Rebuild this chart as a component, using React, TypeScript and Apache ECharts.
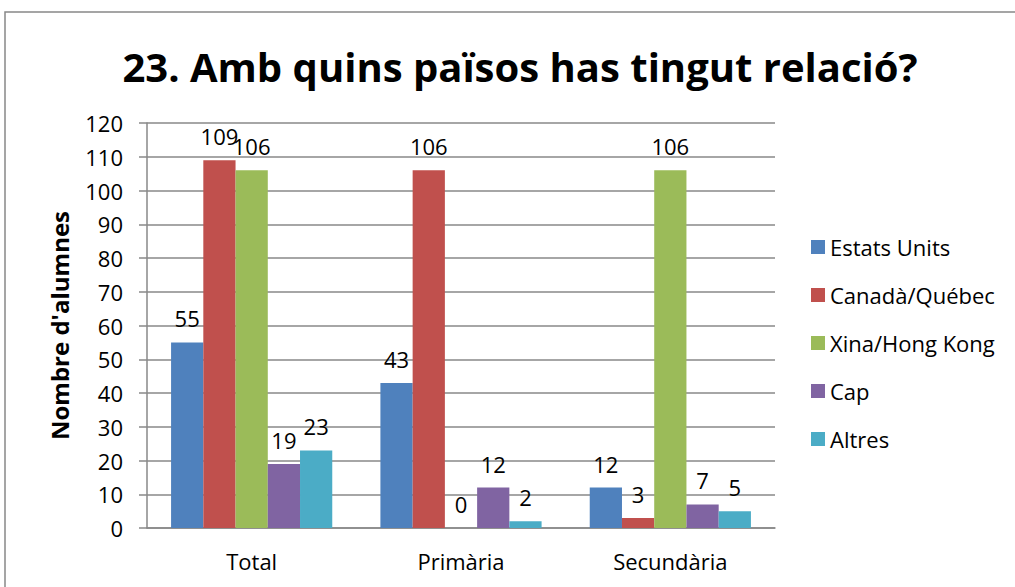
import React, { useEffect, useRef } from "react";
import * as echarts from "echarts";

const categories = ["Total", "Primària", "Secundària"];
const seriesNames = ["Estats Units", "Canadà/Québec", "Xina/Hong Kong", "Cap", "Altres"];
const estatsUnits = [55, 43, 12];
const canada = [109, 106, 3];
const xina = [106, 0, 106];
const cap = [19, 12, 7];
const altres = [23, 2, 5];
const colors = ["#4F81BD", "#C0504D", "#9BBB59", "#8064A2", "#4BACC6"];
const title = "23. Amb quins països has tingut relació?";
const yName = "Nombre d'alumnes";

const FONT = "'Open Sans', 'Noto Sans', sans-serif";

export default function App() {
  const ref = useRef<HTMLDivElement>(null);
  useEffect(() => {
    document.body.style.margin = "0";
    const chart = echarts.init(ref.current!, null, { renderer: "svg" });
    const data = [estatsUnits, canada, xina, cap, altres];
    chart.setOption({
      animation: false,
      backgroundColor: "#fff",
      textStyle: { fontFamily: FONT },
      title: {
        text: title,
        left: 520,
        textAlign: "center",
        top: 46,
        padding: 0,
        textStyle: { fontFamily: FONT, fontSize: 40, fontWeight: "bold", color: "#000" },
      },
      graphic: [
        {
          type: "rect",
          shape: { x: 5, y: 12, width: 1200, height: 800 },
          style: { fill: "none", stroke: "#888", lineWidth: 1.5 },
          silent: true,
        },
      ],
      legend: {
        orient: "vertical",
        left: 806,
        top: 231,
        itemWidth: 14,
        itemHeight: 14,
        itemGap: 26,
        icon: "rect",
        textStyle: { fontFamily: FONT, fontSize: 22, color: "#000" },
        data: seriesNames,
      },
      grid: { left: 147, right: 240, top: 123, bottom: 59, containLabel: false },
      xAxis: {
        type: "category",
        data: categories,
        axisLine: { lineStyle: { color: "#888", width: 1.5 } },
        axisTick: { show: false },
        axisLabel: { fontFamily: FONT, fontSize: 22, color: "#000", margin: 22 },
      },
      yAxis: {
        type: "value",
        min: 0,
        max: 120,
        interval: 10,
        name: yName,
        nameLocation: "middle",
        nameGap: 76,
        nameTextStyle: { fontFamily: FONT, fontSize: 24, fontWeight: "bold", color: "#000" },
        axisLine: { show: true, lineStyle: { color: "#888", width: 1.5 } },
        axisTick: { show: true, length: 8, lineStyle: { color: "#888", width: 1.5 } },
        axisLabel: { fontFamily: FONT, fontSize: 22, color: "#000", margin: 24 },
        splitLine: { lineStyle: { color: "#888", width: 1.5 } },
      },
      series: seriesNames.map((n, i) => ({
        name: n,
        type: "bar",
        data: data[i],
        barGap: "0%",
        barCategoryGap: "23%",
        itemStyle: { color: colors[i] },
        label: {
          show: true,
          position: "top",
          distance: 13,
          fontFamily: FONT,
          fontSize: 22,
          color: "#000",
        },
      })),
    });
    return () => chart.dispose();
  }, []);
  return <div ref={ref} style={{ width: 1015, height: 587 }} />;
}
